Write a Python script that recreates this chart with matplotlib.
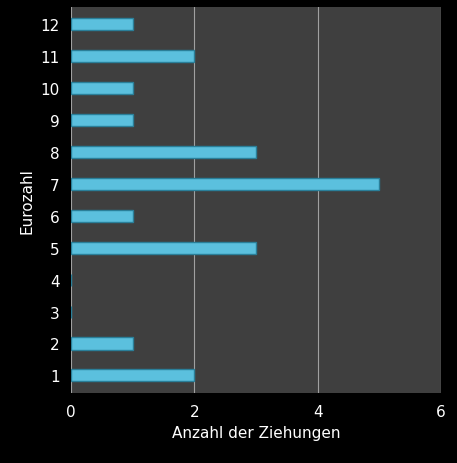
import matplotlib
matplotlib.use("Agg")
import matplotlib.pyplot as plt

categories = [1, 2, 3, 4, 5, 6, 7, 8, 9, 10, 11, 12]
values = [2, 1, 0, 0, 3, 1, 5, 3, 1, 1, 2, 1]
xticks = [0, 2, 4, 6]

fig = plt.figure(figsize=(4.57, 4.64), dpi=100, facecolor="black")
ax = fig.add_axes([0.155, 0.151, 0.81, 0.832], facecolor="#3f3f3f")
ax.barh(categories, values, height=0.38, color="#5bc0de", edgecolor="#2a7f99", linewidth=1, zorder=3)
ax.set_xlim(0, 6)
ax.set_ylim(0.45, 12.55)
ax.set_xticks(xticks)
ax.set_yticks(categories)
ax.grid(axis="x", color="#a0a0a0", linewidth=0.8, zorder=0)
for s in ax.spines.values():
    s.set_visible(False)
ax.tick_params(colors="white", labelsize=11, length=0)
ax.tick_params(axis="y", pad=8)
ax.tick_params(axis="x", pad=8)
ax.set_xlabel("Anzahl der Ziehungen", color="white", fontsize=11)
ax.set_ylabel("Eurozahl", color="white", fontsize=11)
fig.savefig("out.png", dpi=100, facecolor="black")
